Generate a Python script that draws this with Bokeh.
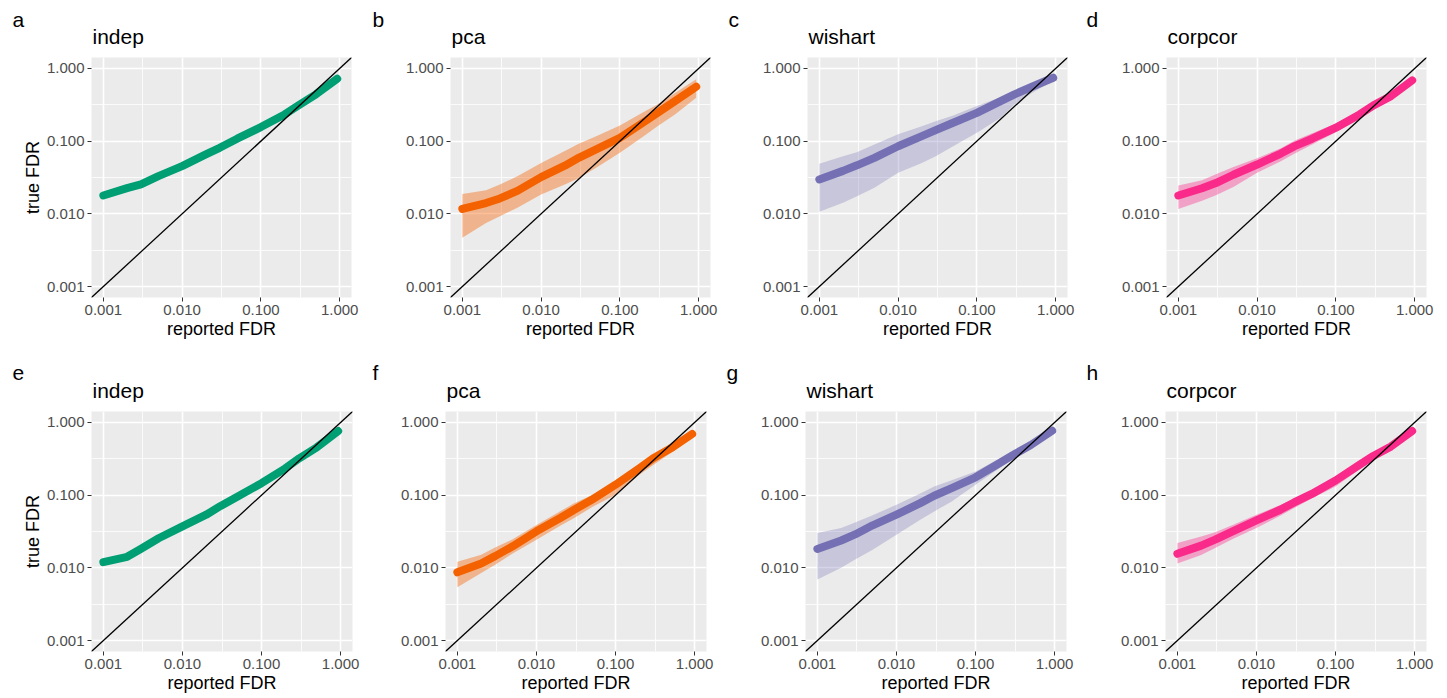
from bokeh.plotting import figure
from bokeh.layouts import column, row
from bokeh.models import FixedTicker, CustomJSTickFormatter, Range1d, Label
from bokeh.embed import file_html
from bokeh.resources import INLINE

# ---------------- data ----------------
reported_fdr = [0.001, 0.002, 0.003, 0.005, 0.01, 0.02, 0.03, 0.05, 0.1, 0.2, 0.3, 0.5, 0.93]
diag = [0.0001, 10.0]

methods = ["indep", "pca", "wishart", "corpcor"]
panel_letters_top = ["a", "b", "c", "d"]
panel_letters_bottom = ["e", "f", "g", "h"]
method_colors = ["#009E73", "#F46100", "#7570B3", "#FA2A8A"]

# top row (a-d)
indep_top_mid = [0.0179, 0.0226, 0.0255, 0.033, 0.0453, 0.0656, 0.081, 0.108, 0.156, 0.233, 0.31, 0.44, 0.72]
pca_top_mid = [0.0117, 0.0141, 0.0163, 0.0207, 0.032, 0.046, 0.059, 0.0768, 0.111, 0.182, 0.245, 0.355, 0.56]
pca_top_lo = [0.0047, 0.0075, 0.0093, 0.0121, 0.0185, 0.0253, 0.031, 0.043, 0.069, 0.117, 0.16, 0.233, 0.395]
pca_top_hi = [0.0188, 0.0212, 0.0253, 0.033, 0.050, 0.073, 0.092, 0.117, 0.164, 0.251, 0.32, 0.46, 0.71]
wishart_top_mid = [0.0297, 0.039, 0.0465, 0.059, 0.085, 0.117, 0.142, 0.179, 0.245, 0.355, 0.44, 0.56, 0.744]
wishart_top_lo = [0.0107, 0.0142, 0.0175, 0.0228, 0.0367, 0.050, 0.062, 0.085, 0.130, 0.21, 0.32, 0.46, 0.68]
wishart_top_hi = [0.049, 0.062, 0.0706, 0.090, 0.124, 0.160, 0.188, 0.225, 0.303, 0.40, 0.462, 0.60, 0.78]
corpcor_top_mid = [0.0179, 0.0225, 0.0265, 0.0345, 0.0477, 0.0676, 0.0853, 0.108, 0.153, 0.233, 0.31, 0.416, 0.684]
corpcor_top_lo = [0.0117, 0.0152, 0.018, 0.0235, 0.0367, 0.053, 0.0676, 0.09, 0.133, 0.205, 0.279, 0.38, 0.635]
corpcor_top_hi = [0.0245, 0.029, 0.035, 0.044, 0.058, 0.08, 0.102, 0.128, 0.175, 0.26, 0.337, 0.45, 0.72]

# bottom row (e-h)
indep_bot_mid = [0.012, 0.0142, 0.0183, 0.0255, 0.0372, 0.0538, 0.0705, 0.096, 0.146, 0.234, 0.321, 0.455, 0.76]
pca_bot_mid = [0.0087, 0.0115, 0.0145, 0.0198, 0.0318, 0.0484, 0.063, 0.0863, 0.139, 0.234, 0.322, 0.44, 0.692]
pca_bot_lo = [0.0054, 0.0085, 0.011, 0.0157, 0.0244, 0.038, 0.0484, 0.068, 0.101, 0.19, 0.26, 0.38, 0.623]
pca_bot_hi = [0.0121, 0.0152, 0.019, 0.0248, 0.039, 0.060, 0.0776, 0.10, 0.154, 0.252, 0.339, 0.46, 0.706]
wishart_bot_mid = [0.0182, 0.0238, 0.0288, 0.0385, 0.0538, 0.0776, 0.098, 0.125, 0.176, 0.274, 0.357, 0.489, 0.769]
wishart_bot_lo = [0.0069, 0.010, 0.013, 0.0178, 0.0286, 0.0459, 0.0597, 0.0819, 0.139, 0.234, 0.321, 0.44, 0.692]
wishart_bot_hi = [0.0302, 0.0353, 0.0422, 0.0527, 0.0737, 0.105, 0.131, 0.16, 0.211, 0.32, 0.418, 0.55, 0.81]
corpcor_bot_mid = [0.0156, 0.0202, 0.0244, 0.0318, 0.045, 0.063, 0.0794, 0.104, 0.159, 0.26, 0.346, 0.465, 0.76]
corpcor_bot_lo = [0.0115, 0.015, 0.0188, 0.025, 0.0353, 0.052, 0.0664, 0.09, 0.131, 0.225, 0.305, 0.42, 0.706]
corpcor_bot_hi = [0.022, 0.027, 0.031, 0.039, 0.0538, 0.073, 0.09, 0.115, 0.171, 0.275, 0.36, 0.48, 0.80]

major_ticks = [0.001, 0.01, 0.1, 1.0]
minor_ticks = [10 ** -2.5, 10 ** -1.5, 10 ** -0.5]

FONT = "Liberation Sans"


def make_panel(letter, title, color, mid, lo, hi, band_alpha,
               border_left, border_right, border_top, border_bottom,
               frame_w, letter_dx, letter_dy, show_ylabel):
    p = figure(x_axis_type="log", y_axis_type="log",
               x_range=Range1d(10 ** -3.15, 10 ** 0.15),
               y_range=Range1d(10 ** -3.15, 10 ** 0.15),
               frame_width=frame_w, frame_height=240,
               min_border_left=border_left, min_border_right=border_right,
               min_border_top=border_top, min_border_bottom=border_bottom,
               toolbar_location=None, output_backend="svg",
               background_fill_color="#EBEBEB", border_fill_color="white")
    p.outline_line_color = None

    for ax in (p.xaxis[0], p.yaxis[0]):
        ax.ticker = FixedTicker(ticks=major_ticks, minor_ticks=minor_ticks)
        ax.formatter = CustomJSTickFormatter(code="return tick.toFixed(3);")
        ax.axis_line_color = None
        ax.major_tick_line_color = "#333333"
        ax.major_tick_line_width = 1
        ax.major_tick_out = 4
        ax.major_tick_in = 0
        ax.minor_tick_out = 0
        ax.minor_tick_in = 0
        ax.major_label_text_font = FONT
        ax.major_label_text_font_size = "15px"
        ax.major_label_text_color = "#4D4D4D"
        ax.major_label_standoff = 3
        ax.axis_label_text_font = FONT
        ax.axis_label_text_font_size = "18px"
        ax.axis_label_text_font_style = "normal"
        ax.axis_label_text_color = "black"
        ax.axis_label_standoff = 1

    p.xaxis.axis_label = "reported FDR"
    if show_ylabel:
        p.yaxis.axis_label = "true FDR"

    for g in (p.xgrid[0], p.ygrid[0]):
        g.grid_line_color = "white"
        g.grid_line_width = 1.6
        g.minor_grid_line_color = "white"
        g.minor_grid_line_width = 0.8

    if lo is not None:
        p.varea(x=reported_fdr, y1=lo, y2=hi, fill_color=color, fill_alpha=band_alpha)
    p.line(reported_fdr, mid, line_color=color, line_width=8,
           line_cap="round", line_join="round")
    p.line(diag, diag, line_color="black", line_width=1.3)

    p.add_layout(Label(x=1, y=21, x_units="screen", y_units="screen",
                       text=title, text_font=FONT, text_font_size="21px",
                       text_color="black", text_baseline="alphabetic",
                       text_align="left"), "above")
    p.add_layout(Label(x=letter_dx, y=letter_dy, x_units="screen", y_units="screen",
                       text=letter, text_font=FONT, text_font_size="21px",
                       text_color="black", text_baseline="alphabetic",
                       text_align="left"), "above")
    return p


top_mids = [indep_top_mid, pca_top_mid, wishart_top_mid, corpcor_top_mid]
top_los = [None, pca_top_lo, wishart_top_lo, corpcor_top_lo]
top_his = [None, pca_top_hi, wishart_top_hi, corpcor_top_hi]
bot_mids = [indep_bot_mid, pca_bot_mid, wishart_bot_mid, corpcor_bot_mid]
bot_los = [None, pca_bot_lo, wishart_bot_lo, corpcor_bot_lo]
bot_his = [None, pca_bot_hi, wishart_bot_hi, corpcor_bot_hi]
band_alphas = [0.35, 0.4, 0.3, 0.38]

# layout geometry (page px)
top_left_borders = [91, 90, 87, 86]
top_right_borders = [9, 10, 13, 19]
top_frame_w = [260, 260, 260, 260]
top_letter_dx = [-79, -78, -79, -80]
bot_left_borders = [91, 85, 85, 85]
bot_right_borders = [8, 14, 14, 19]
bot_frame_w = [261, 261, 261, 261]
bot_letter_dx = [-79, -73, -79, -79]

top_panels = []
for i in range(4):
    top_panels.append(make_panel(panel_letters_top[i], methods[i], method_colors[i],
                                 top_mids[i], top_los[i], top_his[i], band_alphas[i],
                                 top_left_borders[i], top_right_borders[i], 57, 63,
                                 top_frame_w[i], top_letter_dx[i], 15, i == 0))
bot_panels = []
for i in range(4):
    bot_panels.append(make_panel(panel_letters_bottom[i], methods[i], method_colors[i],
                                 bot_mids[i], bot_los[i], bot_his[i], band_alphas[i],
                                 bot_left_borders[i], bot_right_borders[i], 51, 46,
                                 bot_frame_w[i], bot_letter_dx[i], 16, i == 0))

layout = column(row(*top_panels, spacing=0), row(*bot_panels, spacing=0), spacing=0)

open("out.html", "w").write(file_html(layout, INLINE))
